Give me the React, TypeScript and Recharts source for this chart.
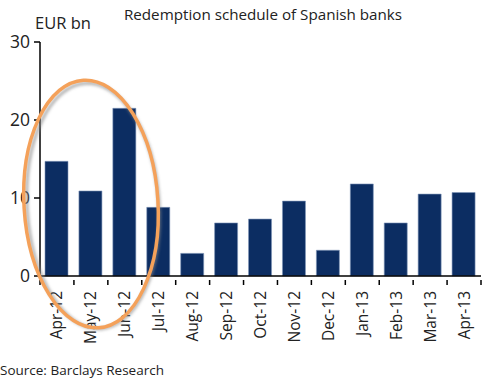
import React from "react";
import { BarChart, Bar, XAxis, YAxis } from "recharts";

const categories = ["Apr-12", "May-12", "Jun-12", "Jul-12", "Aug-12", "Sep-12", "Oct-12", "Nov-12", "Dec-12", "Jan-13", "Feb-13", "Mar-13", "Apr-13"];
const redemptions = [14.7, 10.9, 21.5, 8.8, 2.9, 6.8, 7.3, 9.6, 3.3, 11.8, 6.8, 10.5, 10.7];
const yTicks = [0, 10, 20, 30];

const data = categories.map((c, i) => ({ month: c, value: redemptions[i] }));

const FONT = "'Open Sans', 'DejaVu Sans', sans-serif";
const W = 500;
const H = 382;
const M = { top: 42, right: 19, left: 0, bottom: 0 };
const Y_W = 40;
const X_H = 106;
const BAND = (W - M.left - M.right - Y_W) / categories.length;

const XTick = (props: any) => {
  const { x, y, payload, index } = props;
  const half = BAND / 2;
  const last = index === categories.length - 1;
  const y0 = y - 2;
  return (
    <g>
      <line x1={x - half} y1={y0} x2={x - half} y2={y0 + 5} stroke="#000" strokeWidth={1.5} />
      {last && <line x1={x + half} y1={y0} x2={x + half} y2={y0 + 5} stroke="#000" strokeWidth={1.5} />}
      <text
        x={0}
        y={0}
        transform={`translate(${x + 5.5},${y0 + 11}) rotate(-90)`}
        textAnchor="end"
        fontSize={15.5}
        fontFamily={FONT}
        fill="#222"
      >
        {payload.value}
      </text>
    </g>
  );
};

export default function App() {
  return (
    <div style={{ position: "absolute", left: 0, top: 0, width: W, height: H, background: "#fff" }}>
      <BarChart width={W} height={H} data={data} margin={M} barSize={23}>
        <XAxis
          dataKey="month"
          axisLine={{ stroke: "#000", strokeWidth: 1.5 }}
          tickLine={false}
          tick={<XTick />}
          tickMargin={0}
          interval={0}
          height={X_H}
        />
        <YAxis
          domain={[0, 30]}
          ticks={yTicks}
          width={Y_W}
          axisLine={{ stroke: "#000", strokeWidth: 1.5 }}
          tickLine={{ stroke: "#000", strokeWidth: 1.5 }}
          tickSize={6}
          tickMargin={4}
          tick={{ fontSize: 17.5, fontFamily: FONT, fill: "#222" }}
        />
        <Bar dataKey="value" fill="#0c2d62" stroke="#7f95b8" strokeWidth={0.6} isAnimationActive={false} />
      </BarChart>
      <svg width={W} height={H} style={{ position: "absolute", left: 0, top: 0, pointerEvents: "none" }}>
        <defs>
          <filter id="blur" x="-20%" y="-20%" width="140%" height="140%">
            <feGaussianBlur stdDeviation="1.5" />
          </filter>
        </defs>
        <text x={263} y={20} textAnchor="middle" fontSize={15.2} fontFamily={FONT} fill="#222">
          Redemption schedule of Spanish banks
        </text>
        <text x={35} y={29} fontSize={16.5} fontFamily={FONT} fill="#222">
          EUR bn
        </text>
        <text x={0} y={375} fontSize={13.5} fontFamily={FONT} fill="#222">
          Source: Barclays Research
        </text>
        <ellipse cx={93} cy={206} rx={66} ry={123} transform="rotate(-3.5 93 206)" fill="none" stroke="#888" strokeOpacity={0.7} strokeWidth={3} filter="url(#blur)" />
        <ellipse cx={91} cy={204} rx={67} ry={124} transform="rotate(-3.5 91 204)" fill="none" stroke="#f4a15a" strokeWidth={3.5} />
      </svg>
    </div>
  );
}
